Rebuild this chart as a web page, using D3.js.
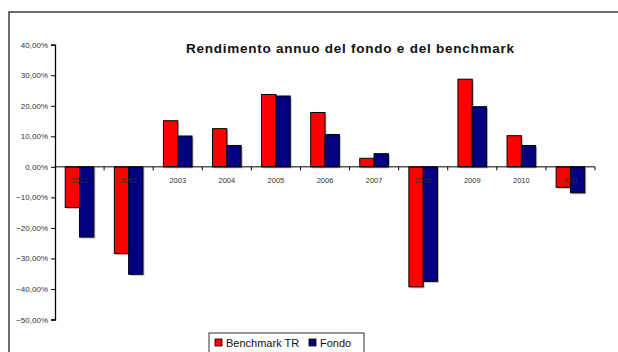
<!DOCTYPE html>
<html><head><meta charset="utf-8">
<script src="https://cdn.jsdelivr.net/npm/d3@7"></script>
<style>html,body{margin:0;padding:0;background:#fff;}svg{display:block;}</style>
</head><body>
<script>
const years = ["2001","2002","2003","2004","2005","2006","2007","2008","2009","2010","2011"];
const seriesNames = ["Benchmark TR","Fondo"];
const benchmark = [-13.3,-28.4,15.1,12.5,23.7,17.8,2.8,-39.3,28.7,10.2,-6.7];
const fondo = [-23.0,-35.2,10.1,7.0,23.2,10.6,4.3,-37.5,19.7,7.0,-8.5];
const colors = ["#ff0000","#000080"];
const yTicks = [0.4,0.3,0.2,0.1,0,-0.1,-0.2,-0.3,-0.4,-0.5];
const title = "Rendimento annuo del fondo e del benchmark";

const W=618,H=352;
const svg=d3.select("body").append("svg").attr("width",W).attr("height",H);
svg.append("rect").attr("x",0).attr("y",0).attr("width",W).attr("height",H).attr("fill","#fff");
// outer frame
svg.append("rect").attr("x",9).attr("y",12).attr("width",W+10).attr("height",H+10)
  .attr("fill","none").attr("stroke","#222").attr("stroke-width",1.3);

const x0=d3.scaleBand().domain(years).range([55,595]).padding(0);
const gw=x0.bandwidth()*0.583;
const x1=d3.scaleBand().domain(seriesNames).range([0,gw]).padding(0);
const y=d3.scaleLinear().domain([-0.5,0.4]).range([319.5,44.7]);

const data=years.map((yr,i)=>({year:yr,vals:[benchmark[i]/100,fondo[i]/100]}));
const off=(x0.bandwidth()-gw)/2;

// shadows
const g=svg.append("g");
data.forEach(d=>{
  d.vals.forEach((v,j)=>{
    const xx=x0(d.year)+off+x1(seriesNames[j]);
    const top=Math.min(y(v),y(0)), h=Math.abs(y(v)-y(0));
    g.append("rect").attr("x",xx+1.5).attr("y",top+1.5).attr("width",x1.bandwidth()).attr("height",h)
      .attr("fill","#bbb");
  });
});
data.forEach(d=>{
  d.vals.forEach((v,j)=>{
    const xx=x0(d.year)+off+x1(seriesNames[j]);
    const top=Math.min(y(v),y(0)), h=Math.abs(y(v)-y(0));
    g.append("rect").attr("x",xx).attr("y",top).attr("width",x1.bandwidth()).attr("height",h)
      .attr("fill",colors[j]).attr("stroke","#000").attr("stroke-width",1);
  });
});

// y axis
const yAxis=d3.axisLeft(y).tickValues(yTicks).tickSize(4).tickPadding(3)
  .tickFormat(v=>d3.format(".2f")(v*100).replace(".",",")+"%");
const ya=svg.append("g").attr("transform","translate(55,0)").call(yAxis);
ya.select(".domain").attr("stroke","#000").attr("stroke-width",1.3);
ya.selectAll(".tick line").attr("stroke","#000");
ya.selectAll("text").attr("font-family","Arial, 'Liberation Sans', sans-serif").attr("font-size",8).attr("fill","#333");

// x axis line at 0 with ticks at boundaries
const xa=svg.append("g");
xa.append("line").attr("x1",55).attr("x2",595).attr("y1",y(0)).attr("y2",y(0)).attr("stroke","#000").attr("stroke-width",1);
const bounds=years.map(yr=>x0(yr)).concat([x0(years[years.length-1])+x0.bandwidth()]);
xa.selectAll("line.t").data(bounds.slice(1)).enter().append("line")
  .attr("x1",d=>d).attr("x2",d=>d).attr("y1",y(0)).attr("y2",y(0)+3.5).attr("stroke","#000");
xa.selectAll("text").data(years).enter().append("text")
  .attr("x",d=>x0(d)+x0.bandwidth()/2).attr("y",y(0)+16).attr("text-anchor","middle")
  .attr("font-family","Arial, 'Liberation Sans', sans-serif").attr("font-size",7.5).attr("fill","#333")
  .text(d=>d);

// title
svg.append("text").attr("x",350).attr("y",53).attr("text-anchor","middle")
  .attr("font-family","Arial, 'Liberation Sans', sans-serif").attr("font-weight","bold").attr("font-size",13.5)
  .attr("fill","#111").attr("textLength",328).attr("lengthAdjust","spacing").text(title);

// legend
const lg=svg.append("g");
lg.append("rect").attr("x",209).attr("y",333).attr("width",155).attr("height",30).attr("fill","#fff").attr("stroke","#333").attr("stroke-width",1);
const lx=[215,309];
seriesNames.forEach((s,j)=>{
  lg.append("rect").attr("x",lx[j]).attr("y",339).attr("width",7).attr("height",7).attr("fill",colors[j]).attr("stroke","#000").attr("stroke-width",0.8);
  lg.append("text").attr("x",lx[j]+11).attr("y",346.5).attr("font-family","Arial, 'Liberation Sans', sans-serif")
    .attr("font-size",11).attr("fill","#111").text(s);
});
</script>
</body></html>
